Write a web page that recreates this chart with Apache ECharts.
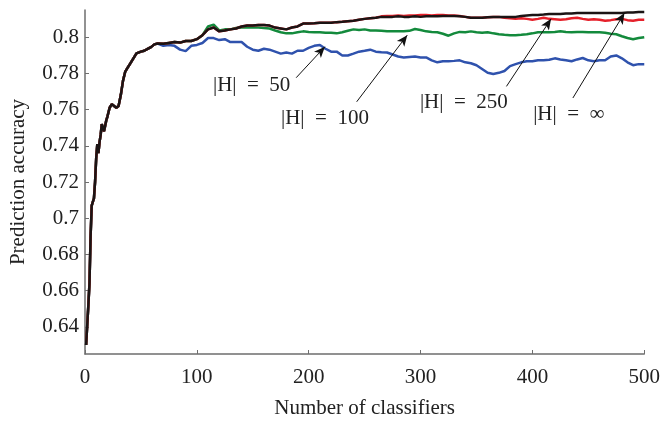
<!DOCTYPE html>
<html>
<head>
<meta charset="utf-8">
<script src="https://cdn.jsdelivr.net/npm/echarts@6/dist/echarts.min.js"></script>
<style>
  html, body { margin: 0; padding: 0; background: #fff; }
  #plot { width: 663px; height: 424px; }
</style>
</head>
<body>
<div id="plot"></div>
<script>
// shared start: all four runs coincide here
var warmX = [1, 2, 3, 4, 5, 6, 7, 8, 9, 10, 11, 12, 13, 14, 15, 16, 17, 18, 19, 20,
  22, 24, 25, 26, 28, 30, 32, 34, 36, 38, 40, 43, 46, 50, 53, 56, 59, 62, 65];
var warmY = [0.630, 0.641, 0.652, 0.664, 0.690, 0.707, 0.709, 0.711, 0.720, 0.733,
  0.741, 0.736, 0.742, 0.746, 0.752, 0.750, 0.748, 0.751, 0.754, 0.756,
  0.761, 0.763, 0.764, 0.762, 0.761, 0.762, 0.768, 0.776, 0.781, 0.783,
  0.785, 0.788, 0.791, 0.792, 0.7925, 0.7935, 0.7945, 0.796, 0.7965];

// x = 70, 75, ... 500
var tailX = [];
for (var k = 70; k <= 500; k += 5) tailX.push(k);

var tail50 = [0.7952, 0.7957, 0.7952, 0.7931, 0.7923, 0.7952, 0.7957, 0.7968, 0.7995, 0.7995,
  0.7984, 0.7989, 0.7973, 0.7973, 0.7973, 0.7947, 0.7931, 0.7925, 0.7936, 0.7931,
  0.7920, 0.7909, 0.7915, 0.7909, 0.7925, 0.7925, 0.7941, 0.7952, 0.7957, 0.7936,
  0.7920, 0.7920, 0.7899, 0.7899, 0.7909, 0.7920, 0.7925, 0.7931, 0.7920, 0.7917,
  0.7915, 0.7904, 0.7893, 0.7888, 0.7891, 0.7893, 0.7888, 0.7888, 0.7872, 0.7861,
  0.7867, 0.7867, 0.7869, 0.7872, 0.7861, 0.7856, 0.7845, 0.7824, 0.7803, 0.7797,
  0.7803, 0.7813, 0.7840, 0.7851, 0.7861, 0.7867, 0.7867, 0.7872, 0.7872, 0.7875,
  0.7883, 0.7877, 0.7872, 0.7867, 0.7877, 0.7885, 0.7872, 0.7867, 0.7872, 0.7872,
  0.7893, 0.7899, 0.7883, 0.7861, 0.7845, 0.7851, 0.7851];

var tail100 = [0.7963, 0.7968, 0.7973, 0.7970, 0.7979, 0.7979, 0.7989, 0.8011, 0.8059, 0.8069,
  0.8037, 0.8043, 0.8043, 0.8051, 0.8053, 0.8053, 0.8053, 0.8053, 0.8051, 0.8048,
  0.8037, 0.8027, 0.8021, 0.8021, 0.8027, 0.8032, 0.8029, 0.8027, 0.8027, 0.8024,
  0.8024, 0.8021, 0.8027, 0.8035, 0.8043, 0.8040, 0.8043, 0.8037, 0.8037, 0.8035,
  0.8032, 0.8032, 0.8032, 0.8032, 0.8035, 0.8045, 0.8040, 0.8032, 0.8029, 0.8027,
  0.8019, 0.8008, 0.8021, 0.8029, 0.8027, 0.8032, 0.8027, 0.8024, 0.8027, 0.8021,
  0.8016, 0.8013, 0.8011, 0.8011, 0.8013, 0.8016, 0.8021, 0.8027, 0.8027, 0.8027,
  0.8029, 0.8032, 0.8029, 0.8027, 0.8029, 0.8029, 0.8027, 0.8027, 0.8027, 0.8024,
  0.8019, 0.8016, 0.8005, 0.7995, 0.7989, 0.7995, 0.8000];

var tail250 = [0.7963, 0.7968, 0.7973, 0.7970, 0.7979, 0.7979, 0.7989, 0.8011, 0.8043, 0.8053,
  0.8032, 0.8037, 0.8043, 0.8048, 0.8059, 0.8064, 0.8064, 0.8067, 0.8067, 0.8064,
  0.8053, 0.8048, 0.8043, 0.8053, 0.8059, 0.8075, 0.8075, 0.8077, 0.8080, 0.8080,
  0.8080, 0.8083, 0.8085, 0.8088, 0.8091, 0.8096, 0.8101, 0.8104, 0.8107, 0.8115,
  0.8117, 0.8117, 0.8120, 0.8117, 0.8120, 0.8120, 0.8123, 0.8123, 0.8120, 0.8123,
  0.8123, 0.8120, 0.8120, 0.8117, 0.8112, 0.8107, 0.8107, 0.8107, 0.8110, 0.8112,
  0.8112, 0.8107, 0.8104, 0.8101, 0.8104, 0.8101, 0.8096, 0.8101, 0.8107, 0.8101,
  0.8099, 0.8096, 0.8099, 0.8104, 0.8107, 0.8101, 0.8096, 0.8099, 0.8096, 0.8091,
  0.8094, 0.8099, 0.8101, 0.8094, 0.8091, 0.8096, 0.8096];

var tailInf = [0.7963, 0.7968, 0.7973, 0.7970, 0.7979, 0.7979, 0.7989, 0.8011, 0.8043, 0.8053,
  0.8032, 0.8037, 0.8043, 0.8048, 0.8059, 0.8064, 0.8064, 0.8067, 0.8067, 0.8064,
  0.8053, 0.8048, 0.8043, 0.8053, 0.8059, 0.8075, 0.8075, 0.8077, 0.8080, 0.8080,
  0.8080, 0.8083, 0.8085, 0.8088, 0.8091, 0.8096, 0.8101, 0.8104, 0.8107, 0.8112,
  0.8112, 0.8112, 0.8115, 0.8112, 0.8112, 0.8115, 0.8112, 0.8115, 0.8115, 0.8115,
  0.8117, 0.8117, 0.8117, 0.8115, 0.8112, 0.8107, 0.8107, 0.8107, 0.8110, 0.8112,
  0.8112, 0.8112, 0.8112, 0.8112, 0.8117, 0.8120, 0.8123, 0.8123, 0.8125, 0.8128,
  0.8128, 0.8128, 0.8131, 0.8131, 0.8133, 0.8133, 0.8133, 0.8133, 0.8133, 0.8133,
  0.8133, 0.8133, 0.8133, 0.8136, 0.8136, 0.8139, 0.8139];

var yTicks = [0.64, 0.66, 0.68, 0.7, 0.72, 0.74, 0.76, 0.78, 0.8];

// annotation text [x, y, text] and arrows [tailX, tailY, headX, headY]
var notes = [
  [149, 0.7733, '|H|\u2002=\u200250'],
  [214.5, 0.7552, '|H|\u2002=\u2002100'],
  [338.7, 0.7637, '|H|\u2002=\u2002250'],
  [432.6, 0.7573, '|H|\u2002=\u2002\u221e']
];
var arrows = [
  [188.8, 0.7776, 214.5, 0.7947],
  [242.9, 0.7643, 288.1, 0.8011],
  [376.8, 0.7728, 416.7, 0.8101],
  [436.2, 0.7664, 482.3, 0.8133]
];

function pairs(tail) {
  var out = [];
  for (var i = 0; i < warmX.length; i++) out.push([warmX[i], warmY[i]]);
  for (var j = 0; j < tailX.length; j++) out.push([tailX[j], tail[j]]);
  return out;
}

var serif = '"Liberation Serif", "DejaVu Serif", serif';
var axisGray = '#6e6e6e';

function run(name, color, tail) {
  return {
    name: name, type: 'line', data: pairs(tail),
    showSymbol: false, symbol: 'none',
    lineStyle: { color: color, width: 2.5 },
    itemStyle: { color: color },
    emphasis: { disabled: true },
    animation: false
  };
}

var s = document.getElementById('plot');
var c = echarts.init(s);
var series = [
  run('|H| = 50', '#2f52ad', tail50),
  run('|H| = 100', '#138a3c', tail100),
  run('|H| = 250', '#e5202a', tail250),
  run('|H| = inf', '#1b1414', tailInf)
];

// arrows and their labels ride on the last series
series[3].markLine = {
  silent: true, animation: false,
  symbol: ['none', 'arrow'], symbolSize: [7, 11],
  lineStyle: { color: '#111', width: 1, type: 'solid' },
  label: { show: false },
  data: arrows.map(function(a) {
    return [{ coord: [a[0], a[1]] }, { coord: [a[2], a[3]] }];
  })
};
series[3].markPoint = {
  silent: true, animation: false,
  symbol: 'circle', symbolSize: 0,
  label: { show: true, position: 'inside', color: '#222', fontFamily: serif, fontSize: 21 },
  data: notes.map(function(n) {
    return { coord: [n[0], n[1]], label: { formatter: n[2] } };
  })
};

var m = {
  animation: false,
  grid: { left: 83, right: 16, top: 10, bottom: 59 },
  xAxis: {
    type: 'value', min: 0, max: 500, interval: 100,
    name: 'Number of classifiers', nameLocation: 'middle', nameGap: 44,
    nameTextStyle: { color: '#222', fontFamily: serif, fontSize: 21 },
    axisLine: { show: true, lineStyle: { color: axisGray, width: 1.5 } },
    axisTick: { show: true, inside: true, length: 4, lineStyle: { color: axisGray } },
    axisLabel: { color: '#222', fontFamily: serif, fontSize: 21, margin: 13 },
    splitLine: { show: false }
  },
  yAxis: {
    type: 'value', min: 0.625, max: 0.815,
    name: 'Prediction accuracy', nameLocation: 'middle', nameGap: 56,
    nameTextStyle: { color: '#222', fontFamily: serif, fontSize: 21 },
    axisLine: { show: true, lineStyle: { color: axisGray, width: 1.5 } },
    axisTick: { show: true, inside: true, length: 4, customValues: yTicks, lineStyle: { color: axisGray } },
    axisLabel: { color: '#222', fontFamily: serif, fontSize: 21, margin: 6, customValues: yTicks },
    splitLine: { show: false }
  },
  series: series
};
c.setOption(m);
</script>
</body>
</html>
